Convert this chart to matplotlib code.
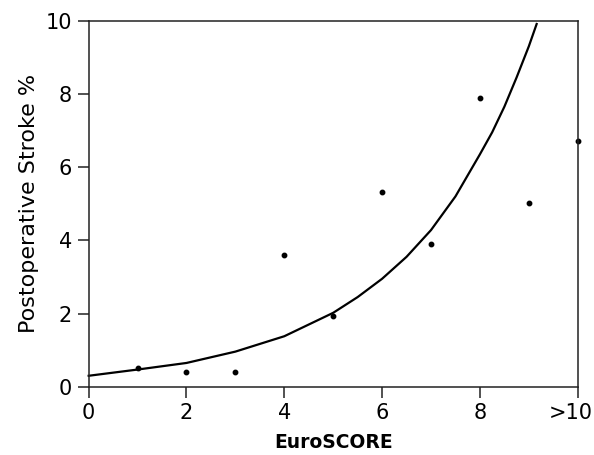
import matplotlib
matplotlib.use("Agg")
import matplotlib.pyplot as plt
import matplotlib.transforms as mtransforms

# Observed data points
score_x = [1, 2, 3, 4, 5, 6, 7, 8, 9, 10]
stroke_pct = [0.50, 0.41, 0.41, 3.60, 1.93, 5.31, 3.90, 7.90, 5.01, 6.72]

# Fitted curve
curve_x = [0, 1, 2, 3, 4, 5, 5.5, 6, 6.5, 7, 7.5, 8, 8.25, 8.5, 8.75, 9, 9.16]
curve_y = [0.30, 0.47, 0.65, 0.96, 1.38, 2.02, 2.45, 2.95, 3.55, 4.28, 5.20, 6.35, 6.95, 7.65, 8.45, 9.30, 9.91]

x_ticks = [0, 2, 4, 6, 8, 10]
x_tick_labels = ["0", "2", "4", "6", "8", ">10"]
y_ticks = [0, 2, 4, 6, 8, 10]

plt.rcParams['font.family'] = ['DejaVu Sans']
fig = plt.figure(figsize=(5.94, 4.55), dpi=100)
ax = fig.add_axes([0.1493, 0.150, 0.8233, 0.8045])

ax.plot(curve_x, curve_y, color='black', lw=1.6, clip_on=False)
ax.plot(score_x, stroke_pct, 'o', color='black', ms=3.2, clip_on=False)

ax.set_xlim(0, 10)
ax.set_ylim(0, 10)
ax.set_xticks(x_ticks)
ax.set_xticklabels(x_tick_labels)
ax.set_yticks(y_ticks)
for s in ax.spines.values():
    s.set_linewidth(1.1)
    s.set_color('#222222')
ax.tick_params(direction='out', length=8, width=1.1, labelsize=15, pad=4, color='#222222')
ax.set_xlabel("EuroSCORE", fontsize=13.5, fontweight='bold', labelpad=7)
ax.set_ylabel("Postoperative Stroke %", fontsize=16, labelpad=5)

last = ax.get_xticklabels()[-1]
last.set_transform(last.get_transform() + mtransforms.ScaledTranslation(-7/100, 0, fig.dpi_scale_trans))

fig.savefig("out.png", dpi=100)
